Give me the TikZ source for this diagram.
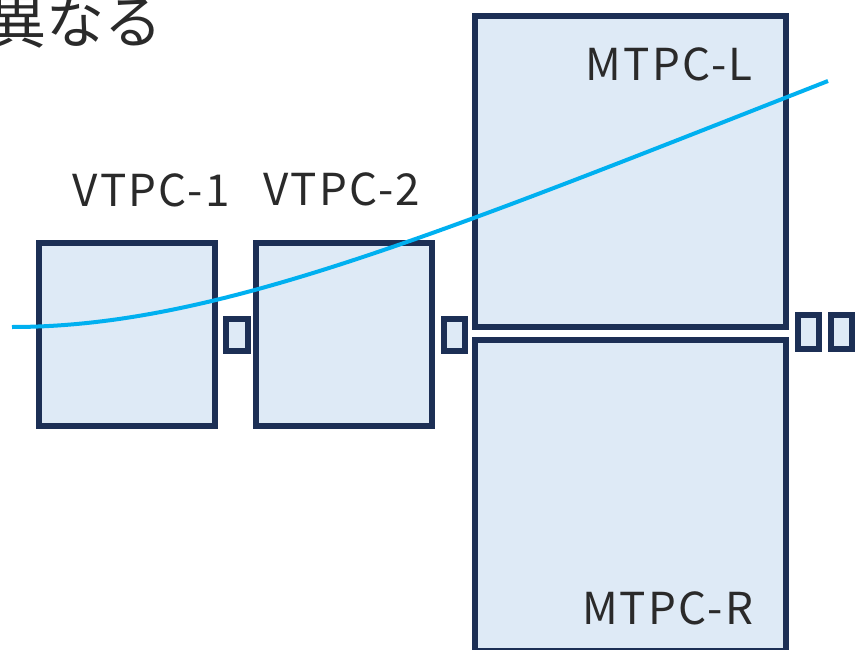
\documentclass[tikz,border=0pt]{standalone}
\usepackage{fontspec}
\newfontfamily\jp{Noto Sans CJK JP}
\newfontfamily\lat[LetterSpace=5]{Noto Sans CJK JP}
\definecolor{boxline}{HTML}{1C2F55}
\definecolor{boxfill}{HTML}{DEEAF6}
\definecolor{track}{HTML}{00B0F0}
\definecolor{txt}{HTML}{2A2A2A}
\begin{document}
\begin{tikzpicture}[x=1pt,y=-1pt,
  tpc/.style={draw=boxline,fill=boxfill,line width=6pt,inner sep=0pt,rectangle},
  lbl/.style={text=txt,inner sep=0pt,font=\lat\fontsize{44}{44}\selectfont}]
\useasboundingbox (0,0) rectangle (856,650);
\clip (0,0) rectangle (856,650);
\node[tpc,minimum width=176pt,minimum height=183pt] (v1) at (127,334.5) {};
\node[tpc,minimum width=176pt,minimum height=183pt] (v2) at (344,334.5) {};
\node[tpc,minimum width=22pt,minimum height=32pt] (sa) at (237,335) {};
\node[tpc,minimum width=21pt,minimum height=32pt] (sb) at (454.5,335) {};
\node[tpc,minimum width=311pt,minimum height=311pt] (ml) at (630.5,171.5) {};
\node[tpc,minimum width=311pt,minimum height=311pt] (mr) at (630.5,495.5) {};
\node[tpc,minimum width=21pt,minimum height=34pt] (sc) at (808.5,332) {};
\node[tpc,minimum width=21pt,minimum height=34pt] (sd) at (841.5,332) {};
\node[lbl] (lv1) at (151,190) {VTPC-1};
\node[lbl] (lv2) at (341.5,189) {VTPC-2};
\node[lbl] (lml) at (669,64.5) {MTPC-L};
\node[lbl] (lmr) at (667.5,608.5) {MTPC-R};
\node[text=txt,inner sep=0pt,anchor=base west,font=\jp\fontsize{58}{58}\selectfont] (title) at (-12,44) {異なる};
\coordinate (s) at (12,327);
\coordinate (e) at (828,81);
\draw[track,line width=4pt] (s) .. controls (212,327) and (428,238) .. (e);
\end{tikzpicture}
\end{document}
